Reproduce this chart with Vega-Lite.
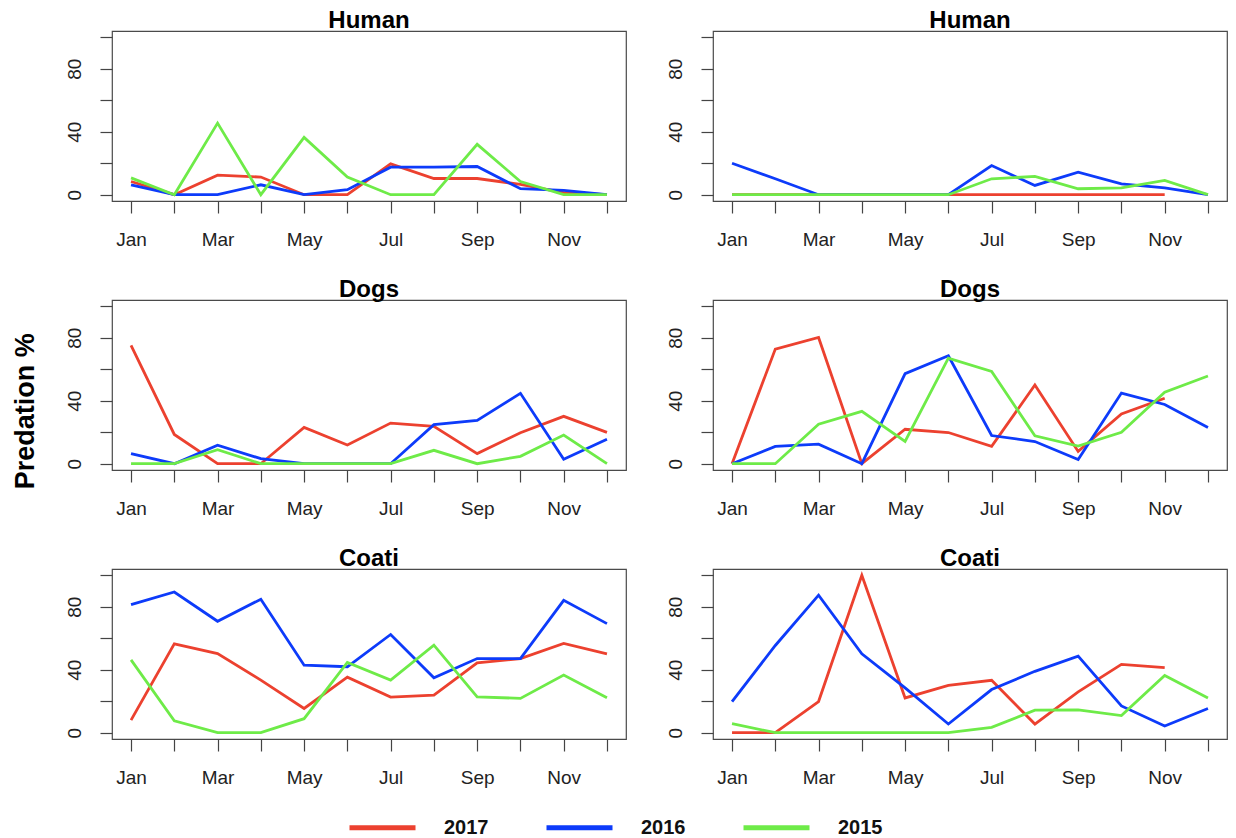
{
  "$schema": "https://vega.github.io/schema/vega-lite/v6.json",
  "padding": {"left": 12, "top": 8, "right": 4, "bottom": 0},
  "title": {
    "text": "Predation %",
    "orient": "left",
    "anchor": "middle",
    "frame": "bounds",
    "fontSize": 27,
    "fontWeight": "bold",
    "font": "Liberation Sans",
    "color": "#000000",
    "offset": 24,
    "dx": 12
  },
  "datasets": {
    "human_a": [
      {"month": 1, "year": "2017", "pct": 8.4}, {"month": 2, "year": "2017", "pct": 0}, {"month": 3, "year": "2017", "pct": 12.4}, {"month": 4, "year": "2017", "pct": 11.2}, {"month": 5, "year": "2017", "pct": 0}, {"month": 6, "year": "2017", "pct": 0}, {"month": 7, "year": "2017", "pct": 19.6}, {"month": 8, "year": "2017", "pct": 10.3}, {"month": 9, "year": "2017", "pct": 10.3}, {"month": 10, "year": "2017", "pct": 6.5}, {"month": 11, "year": "2017", "pct": 1.3}, {"month": 12, "year": "2017", "pct": 0},
      {"month": 1, "year": "2016", "pct": 6.3}, {"month": 2, "year": "2016", "pct": 0}, {"month": 3, "year": "2016", "pct": 0}, {"month": 4, "year": "2016", "pct": 6.3}, {"month": 5, "year": "2016", "pct": 0}, {"month": 6, "year": "2016", "pct": 3.2}, {"month": 7, "year": "2016", "pct": 17.5}, {"month": 8, "year": "2016", "pct": 17.5}, {"month": 9, "year": "2016", "pct": 17.9}, {"month": 10, "year": "2016", "pct": 3.8}, {"month": 11, "year": "2016", "pct": 2.7}, {"month": 12, "year": "2016", "pct": 0},
      {"month": 1, "year": "2015", "pct": 10.7}, {"month": 2, "year": "2015", "pct": 0}, {"month": 3, "year": "2015", "pct": 45.5}, {"month": 4, "year": "2015", "pct": 0}, {"month": 5, "year": "2015", "pct": 36.4}, {"month": 6, "year": "2015", "pct": 11.2}, {"month": 7, "year": "2015", "pct": 0}, {"month": 8, "year": "2015", "pct": 0}, {"month": 9, "year": "2015", "pct": 32}, {"month": 10, "year": "2015", "pct": 8.4}, {"month": 11, "year": "2015", "pct": 0}, {"month": 12, "year": "2015", "pct": 0}
    ],
    "human_b": [
      {"month": 1, "year": "2017", "pct": 0}, {"month": 2, "year": "2017", "pct": 0}, {"month": 3, "year": "2017", "pct": 0}, {"month": 4, "year": "2017", "pct": 0}, {"month": 5, "year": "2017", "pct": 0}, {"month": 6, "year": "2017", "pct": 0}, {"month": 7, "year": "2017", "pct": 0}, {"month": 8, "year": "2017", "pct": 0}, {"month": 9, "year": "2017", "pct": 0}, {"month": 10, "year": "2017", "pct": 0}, {"month": 11, "year": "2017", "pct": 0},
      {"month": 1, "year": "2016", "pct": 20}, {"month": 2, "year": "2016", "pct": 10.1}, {"month": 3, "year": "2016", "pct": 0}, {"month": 4, "year": "2016", "pct": 0}, {"month": 5, "year": "2016", "pct": 0}, {"month": 6, "year": "2016", "pct": 0}, {"month": 7, "year": "2016", "pct": 18.5}, {"month": 8, "year": "2016", "pct": 5.9}, {"month": 9, "year": "2016", "pct": 14.3}, {"month": 10, "year": "2016", "pct": 6.9}, {"month": 11, "year": "2016", "pct": 4.4}, {"month": 12, "year": "2016", "pct": 0},
      {"month": 1, "year": "2015", "pct": 0}, {"month": 2, "year": "2015", "pct": 0}, {"month": 3, "year": "2015", "pct": 0}, {"month": 4, "year": "2015", "pct": 0}, {"month": 5, "year": "2015", "pct": 0}, {"month": 6, "year": "2015", "pct": 0}, {"month": 7, "year": "2015", "pct": 10.1}, {"month": 8, "year": "2015", "pct": 11.6}, {"month": 9, "year": "2015", "pct": 3.8}, {"month": 10, "year": "2015", "pct": 4.4}, {"month": 11, "year": "2015", "pct": 9.1}, {"month": 12, "year": "2015", "pct": 0}
    ],
    "dogs_a": [
      {"month": 1, "year": "2017", "pct": 75.2}, {"month": 2, "year": "2017", "pct": 18.6}, {"month": 3, "year": "2017", "pct": 0}, {"month": 4, "year": "2017", "pct": 0}, {"month": 5, "year": "2017", "pct": 23.1}, {"month": 6, "year": "2017", "pct": 11.9}, {"month": 7, "year": "2017", "pct": 25.8}, {"month": 8, "year": "2017", "pct": 23.7}, {"month": 9, "year": "2017", "pct": 6.4}, {"month": 10, "year": "2017", "pct": 19.7}, {"month": 11, "year": "2017", "pct": 30.1}, {"month": 12, "year": "2017", "pct": 19.9},
      {"month": 1, "year": "2016", "pct": 6.4}, {"month": 2, "year": "2016", "pct": 0}, {"month": 3, "year": "2016", "pct": 11.7}, {"month": 4, "year": "2016", "pct": 3.2}, {"month": 5, "year": "2016", "pct": 0}, {"month": 6, "year": "2016", "pct": 0}, {"month": 7, "year": "2016", "pct": 0}, {"month": 8, "year": "2016", "pct": 24.8}, {"month": 9, "year": "2016", "pct": 27.5}, {"month": 10, "year": "2016", "pct": 44.7}, {"month": 11, "year": "2016", "pct": 2.8}, {"month": 12, "year": "2016", "pct": 15.5},
      {"month": 1, "year": "2015", "pct": 0}, {"month": 2, "year": "2015", "pct": 0}, {"month": 3, "year": "2015", "pct": 8.9}, {"month": 4, "year": "2015", "pct": 0}, {"month": 5, "year": "2015", "pct": 0}, {"month": 6, "year": "2015", "pct": 0}, {"month": 7, "year": "2015", "pct": 0}, {"month": 8, "year": "2015", "pct": 8.5}, {"month": 9, "year": "2015", "pct": 0}, {"month": 10, "year": "2015", "pct": 4.7}, {"month": 11, "year": "2015", "pct": 18.2}, {"month": 12, "year": "2015", "pct": 0}
    ],
    "dogs_b": [
      {"month": 1, "year": "2017", "pct": 0}, {"month": 2, "year": "2017", "pct": 72.8}, {"month": 3, "year": "2017", "pct": 80.2}, {"month": 4, "year": "2017", "pct": 0}, {"month": 5, "year": "2017", "pct": 21.9}, {"month": 6, "year": "2017", "pct": 19.8}, {"month": 7, "year": "2017", "pct": 11}, {"month": 8, "year": "2017", "pct": 50}, {"month": 9, "year": "2017", "pct": 7.8}, {"month": 10, "year": "2017", "pct": 31.6}, {"month": 11, "year": "2017", "pct": 41.6},
      {"month": 1, "year": "2016", "pct": 0}, {"month": 2, "year": "2016", "pct": 11}, {"month": 3, "year": "2016", "pct": 12.4}, {"month": 4, "year": "2016", "pct": 0}, {"month": 5, "year": "2016", "pct": 57.2}, {"month": 6, "year": "2016", "pct": 68.6}, {"month": 7, "year": "2016", "pct": 17.9}, {"month": 8, "year": "2016", "pct": 14.1}, {"month": 9, "year": "2016", "pct": 2.7}, {"month": 10, "year": "2016", "pct": 44.9}, {"month": 11, "year": "2016", "pct": 37.6}, {"month": 12, "year": "2016", "pct": 23},
      {"month": 1, "year": "2015", "pct": 0}, {"month": 2, "year": "2015", "pct": 0}, {"month": 3, "year": "2015", "pct": 25.1}, {"month": 4, "year": "2015", "pct": 33.3}, {"month": 5, "year": "2015", "pct": 14.1}, {"month": 6, "year": "2015", "pct": 67.1}, {"month": 7, "year": "2015", "pct": 58.6}, {"month": 8, "year": "2015", "pct": 17.7}, {"month": 9, "year": "2015", "pct": 11.2}, {"month": 10, "year": "2015", "pct": 20}, {"month": 11, "year": "2015", "pct": 45.4}, {"month": 12, "year": "2015", "pct": 55.7}
    ],
    "coati_a": [
      {"month": 1, "year": "2017", "pct": 8}, {"month": 2, "year": "2017", "pct": 56.4}, {"month": 3, "year": "2017", "pct": 50.3}, {"month": 4, "year": "2017", "pct": 33.4}, {"month": 5, "year": "2017", "pct": 15.4}, {"month": 6, "year": "2017", "pct": 35.3}, {"month": 7, "year": "2017", "pct": 22.6}, {"month": 8, "year": "2017", "pct": 23.9}, {"month": 9, "year": "2017", "pct": 44.4}, {"month": 10, "year": "2017", "pct": 47.1}, {"month": 11, "year": "2017", "pct": 56.7}, {"month": 12, "year": "2017", "pct": 50.1},
      {"month": 1, "year": "2016", "pct": 81.4}, {"month": 2, "year": "2016", "pct": 89.4}, {"month": 3, "year": "2016", "pct": 70.8}, {"month": 4, "year": "2016", "pct": 84.8}, {"month": 5, "year": "2016", "pct": 42.9}, {"month": 6, "year": "2016", "pct": 41.9}, {"month": 7, "year": "2016", "pct": 62.4}, {"month": 8, "year": "2016", "pct": 34.9}, {"month": 9, "year": "2016", "pct": 47.1}, {"month": 10, "year": "2016", "pct": 47.1}, {"month": 11, "year": "2016", "pct": 84.1}, {"month": 12, "year": "2016", "pct": 69.3},
      {"month": 1, "year": "2015", "pct": 46.3}, {"month": 2, "year": "2015", "pct": 7.6}, {"month": 3, "year": "2015", "pct": 0}, {"month": 4, "year": "2015", "pct": 0}, {"month": 5, "year": "2015", "pct": 8.9}, {"month": 6, "year": "2015", "pct": 44.6}, {"month": 7, "year": "2015", "pct": 33.4}, {"month": 8, "year": "2015", "pct": 55.6}, {"month": 9, "year": "2015", "pct": 22.8}, {"month": 10, "year": "2015", "pct": 21.8}, {"month": 11, "year": "2015", "pct": 36.6}, {"month": 12, "year": "2015", "pct": 22.2}
    ],
    "coati_b": [
      {"month": 1, "year": "2017", "pct": 0}, {"month": 2, "year": "2017", "pct": 0}, {"month": 3, "year": "2017", "pct": 19.8}, {"month": 4, "year": "2017", "pct": 100}, {"month": 5, "year": "2017", "pct": 22.1}, {"month": 6, "year": "2017", "pct": 30.1}, {"month": 7, "year": "2017", "pct": 33.3}, {"month": 8, "year": "2017", "pct": 5.5}, {"month": 9, "year": "2017", "pct": 25.9}, {"month": 10, "year": "2017", "pct": 43.4}, {"month": 11, "year": "2017", "pct": 41.3},
      {"month": 1, "year": "2016", "pct": 19.8}, {"month": 2, "year": "2016", "pct": 55.4}, {"month": 3, "year": "2016", "pct": 87.4}, {"month": 4, "year": "2016", "pct": 50.1}, {"month": 5, "year": "2016", "pct": 28.5}, {"month": 6, "year": "2016", "pct": 5.5}, {"month": 7, "year": "2016", "pct": 27.4}, {"month": 8, "year": "2016", "pct": 39}, {"month": 9, "year": "2016", "pct": 48.6}, {"month": 10, "year": "2016", "pct": 17}, {"month": 11, "year": "2016", "pct": 4.2}, {"month": 12, "year": "2016", "pct": 15.4},
      {"month": 1, "year": "2015", "pct": 5.7}, {"month": 2, "year": "2015", "pct": 0}, {"month": 3, "year": "2015", "pct": 0}, {"month": 4, "year": "2015", "pct": 0}, {"month": 5, "year": "2015", "pct": 0}, {"month": 6, "year": "2015", "pct": 0}, {"month": 7, "year": "2015", "pct": 3.4}, {"month": 8, "year": "2015", "pct": 14.3}, {"month": 9, "year": "2015", "pct": 14.5}, {"month": 10, "year": "2015", "pct": 10.9}, {"month": 11, "year": "2015", "pct": 36.4}, {"month": 12, "year": "2015", "pct": 22.1}
    ]
  },
  "columns": 2,
  "bounds": "flush",
  "spacing": {"row": 99, "column": 87},
  "resolve": {"scale": {"color": "shared"}},
  "concat": [
    {
      "title": "Human",
      "width": 514, "height": 170,
      "data": {"name": "human_a"},
      "mark": {"type": "line", "strokeWidth": 2.8},
      "encoding": {
        "x": {"field": "month", "type": "quantitative", "scale": {"domain": [0.56, 12.44], "nice": false, "zero": false}, "axis": {"values": [1,2,3,4,5,6,7,8,9,10,11,12], "labelExpr": "['Jan','','Mar','','May','','Jul','','Sep','','Nov',''][datum.value - 1]"}},
        "y": {"field": "pct", "type": "quantitative", "scale": {"domain": [-4, 104], "nice": false, "zero": false}, "axis": {"values": [0,20,40,60,80,100], "labelExpr": "datum.value % 40 === 0 ? datum.label : ''"}},
        "color": {"field": "year", "type": "nominal", "scale": {"domain": ["2017","2016","2015"], "range": ["#EC412F","#0D3BFA","#6EEB48"]}}
      }
    },
    {
      "title": "Human",
      "width": 514, "height": 170,
      "data": {"name": "human_b"},
      "mark": {"type": "line", "strokeWidth": 2.8},
      "encoding": {
        "x": {"field": "month", "type": "quantitative", "scale": {"domain": [0.56, 12.44], "nice": false, "zero": false}, "axis": {"values": [1,2,3,4,5,6,7,8,9,10,11,12], "labelExpr": "['Jan','','Mar','','May','','Jul','','Sep','','Nov',''][datum.value - 1]"}},
        "y": {"field": "pct", "type": "quantitative", "scale": {"domain": [-4, 104], "nice": false, "zero": false}, "axis": {"values": [0,20,40,60,80,100], "labelExpr": "datum.value % 40 === 0 ? datum.label : ''"}},
        "color": {"field": "year", "type": "nominal", "scale": {"domain": ["2017","2016","2015"], "range": ["#EC412F","#0D3BFA","#6EEB48"]}}
      }
    },
    {
      "title": "Dogs",
      "width": 514, "height": 170,
      "data": {"name": "dogs_a"},
      "mark": {"type": "line", "strokeWidth": 2.8},
      "encoding": {
        "x": {"field": "month", "type": "quantitative", "scale": {"domain": [0.56, 12.44], "nice": false, "zero": false}, "axis": {"values": [1,2,3,4,5,6,7,8,9,10,11,12], "labelExpr": "['Jan','','Mar','','May','','Jul','','Sep','','Nov',''][datum.value - 1]"}},
        "y": {"field": "pct", "type": "quantitative", "scale": {"domain": [-4, 104], "nice": false, "zero": false}, "axis": {"values": [0,20,40,60,80,100], "labelExpr": "datum.value % 40 === 0 ? datum.label : ''"}},
        "color": {"field": "year", "type": "nominal", "scale": {"domain": ["2017","2016","2015"], "range": ["#EC412F","#0D3BFA","#6EEB48"]}}
      }
    },
    {
      "title": "Dogs",
      "width": 514, "height": 170,
      "data": {"name": "dogs_b"},
      "mark": {"type": "line", "strokeWidth": 2.8},
      "encoding": {
        "x": {"field": "month", "type": "quantitative", "scale": {"domain": [0.56, 12.44], "nice": false, "zero": false}, "axis": {"values": [1,2,3,4,5,6,7,8,9,10,11,12], "labelExpr": "['Jan','','Mar','','May','','Jul','','Sep','','Nov',''][datum.value - 1]"}},
        "y": {"field": "pct", "type": "quantitative", "scale": {"domain": [-4, 104], "nice": false, "zero": false}, "axis": {"values": [0,20,40,60,80,100], "labelExpr": "datum.value % 40 === 0 ? datum.label : ''"}},
        "color": {"field": "year", "type": "nominal", "scale": {"domain": ["2017","2016","2015"], "range": ["#EC412F","#0D3BFA","#6EEB48"]}}
      }
    },
    {
      "title": "Coati",
      "width": 514, "height": 170,
      "data": {"name": "coati_a"},
      "mark": {"type": "line", "strokeWidth": 2.8},
      "encoding": {
        "x": {"field": "month", "type": "quantitative", "scale": {"domain": [0.56, 12.44], "nice": false, "zero": false}, "axis": {"values": [1,2,3,4,5,6,7,8,9,10,11,12], "labelExpr": "['Jan','','Mar','','May','','Jul','','Sep','','Nov',''][datum.value - 1]"}},
        "y": {"field": "pct", "type": "quantitative", "scale": {"domain": [-4, 104], "nice": false, "zero": false}, "axis": {"values": [0,20,40,60,80,100], "labelExpr": "datum.value % 40 === 0 ? datum.label : ''"}},
        "color": {"field": "year", "type": "nominal", "scale": {"domain": ["2017","2016","2015"], "range": ["#EC412F","#0D3BFA","#6EEB48"]}}
      }
    },
    {
      "title": "Coati",
      "width": 514, "height": 170,
      "data": {"name": "coati_b"},
      "mark": {"type": "line", "strokeWidth": 2.8},
      "encoding": {
        "x": {"field": "month", "type": "quantitative", "scale": {"domain": [0.56, 12.44], "nice": false, "zero": false}, "axis": {"values": [1,2,3,4,5,6,7,8,9,10,11,12], "labelExpr": "['Jan','','Mar','','May','','Jul','','Sep','','Nov',''][datum.value - 1]"}},
        "y": {"field": "pct", "type": "quantitative", "scale": {"domain": [-4, 104], "nice": false, "zero": false}, "axis": {"values": [0,20,40,60,80,100], "labelExpr": "datum.value % 40 === 0 ? datum.label : ''"}},
        "color": {"field": "year", "type": "nominal", "scale": {"domain": ["2017","2016","2015"], "range": ["#EC412F","#0D3BFA","#6EEB48"]}, "legend": {"title": null, "orient": "none", "legendX": 235, "legendY": 761, "direction": "horizontal"}}
      }
    }
  ],
  "config": {
    "font": "Liberation Sans",
    "view": {"stroke": "#4a4a4a", "strokeWidth": 1.2},
    "title": {"fontSize": 24, "fontWeight": "bold", "font": "Liberation Sans", "color": "#000000", "baseline": "alphabetic", "offset": -2, "anchor": "middle", "frame": "group"},
    "axis": {
      "title": null,
      "grid": false,
      "domain": false,
      "tickColor": "#444444",
      "tickWidth": 1.2,
      "tickSize": 12,
      "labelFont": "Liberation Sans",
      "labelFontSize": 19,
      "labelColor": "#222222",
      "labelFlush": false,
      "labelOverlap": false
    },
    "axisX": {"labelAlign": "center", "labelBaseline": "alphabetic", "labelPadding": 32, "labelAngle": 0},
    "axisY": {"labelAngle": -90, "labelAlign": "center", "labelBaseline": "alphabetic", "labelPadding": 20},
    "legend": {
      "symbolType": "stroke",
      "symbolSize": 4356,
      "symbolStrokeWidth": 5,
      "labelFont": "Liberation Sans",
      "labelFontSize": 20,
      "labelFontWeight": "bold",
      "labelColor": "#111111",
      "labelOffset": 26,
      "columnPadding": 47
    }
  }
}
